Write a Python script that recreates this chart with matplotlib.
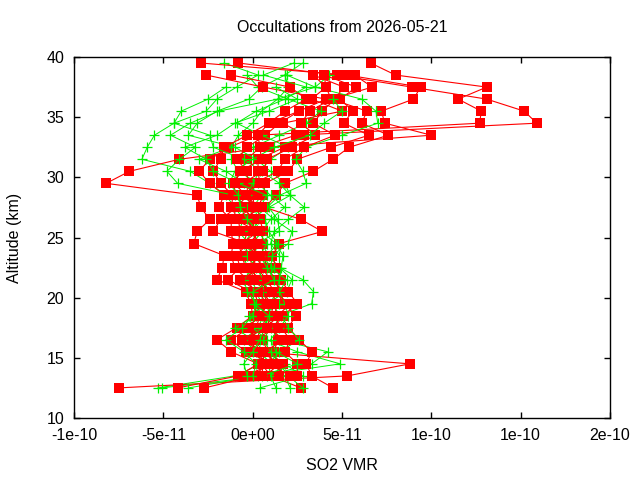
import numpy as np
import matplotlib
matplotlib.use("Agg")
import matplotlib.pyplot as plt

nan = np.nan

# altitude levels (km) shared by every profile
altitude = [12.5, 13.5, 14.5, 15.5, 16.5, 17.5, 18.5, 19.5, 20.5, 21.5,
            22.5, 23.5, 24.5, 25.5, 26.5, 27.5, 28.5, 29.5, 30.5, 31.5,
            32.5, 33.5, 34.5, 35.5, 36.5, 37.5, 38.5, 39.5]

# red profiles, SO2 VMR in units of 1e-11
red_1 = [2.7, 1.0, 0.5, 0.3, 0.2, 0.5, 0.8, 1.0, 0.6, 0.2, 0.0, -0.2, -0.5, -0.3,
         0.0, -0.5, -0.9, -1.1, -0.7, -0.3, 0.4, 2.4, 15.9, 15.2, 13.1, 8.9, 4.7, -0.8]
red_2 = [-7.5, 5.3, 8.8, 0.4, -0.3, 0.2, 0.4, 0.3, 0.1, -0.3, -1.0, -1.2, -1.1, -1.2,
         -1.2, -1.9, -1.6, -2.4, -3.0, -2.4, -1.3, 0.3, 12.7, 12.8, 11.5, 13.1, 8.0, 6.6]
red_3 = [-4.2, -0.8, 0.3, -1.2, -2.0, -0.9, 0.0, -0.1, -0.4, -2.0, -1.7, -1.6, -3.3, -3.1,
         -2.4, -2.9, -3.1, -8.2, -6.9, -4.1, 0.9, 10.0, 7.4, 7.2, 9.0, 9.4, 5.3, -2.9]
red_4 = [-2.7, 0.1, 0.8, 1.2, 1.4, 1.1, 1.7, 2.5, 2.0, 1.6, 1.3, 1.1, 1.5, 3.9,
         2.7, 0.7, 1.3, 1.8, 3.4, 4.5, 5.4, 7.6, 6.1, 6.4, 4.4, 6.7, 5.7, nan]
red_5 = [4.5, 3.3, 3.0, 3.3, 2.6, 2.0, 2.4, 1.8, 1.5, 1.3, 0.8, 0.6, 0.5, 0.6,
         0.4, 0.3, 0.6, 0.7, 2.0, 2.5, 4.4, 6.5, 5.1, 5.6, 4.9, 5.8, 4.0, nan]
red_6 = [nan, 2.5, 2.5, 1.8, 2.1, 1.6, 1.2, 1.4, 1.8, 1.0, 0.5, 0.2, 0.0, 0.2,
         -0.2, 0.1, 0.0, 0.1, 1.4, 1.8, 2.9, 4.6, 3.4, 3.9, 4.6, 5.1, 3.4, nan]
red_7 = [nan, 1.5, 1.7, 0.9, 0.5, -0.5, 0.6, 0.6, 0.9, 0.5, -0.4, -0.6, -0.8, -0.7,
         -0.8, -1.2, -1.1, -1.8, -2.2, -1.8, -1.6, -0.3, 0.9, 1.8, 3.0, 2.1, -1.2, nan]
red_8 = [nan, -0.5, 1.2, -0.4, -1.2, -0.2, 0.3, 0.0, -0.1, -1.4, -0.7, -0.9, -0.3, -2.2,
         -1.8, -0.9, -0.3, -0.3, -0.3, -0.9, -0.3, 0.7, 1.5, 2.6, 4.1, 0.6, -2.6, nan]
red_9 = [nan, 0.7, 1.5, 0.5, -0.6, 0.8, 1.0, 1.2, 1.2, 0.8, 0.2, 0.0, 0.3, 0.0,
         0.1, -0.6, 0.3, -0.6, 0.6, 0.8, 2.2, 3.5, 2.7, 3.2, 4.4, 4.1, 4.0, nan]
red_10 = [nan, 2.1, 0.9, 0.1, 0.0, 1.4, 0.5, 0.8, 0.3, -0.7, 0.5, 0.3, -0.2, 0.4,
          -0.6, 0.5, -0.6, 0.4, 0.3, 0.3, 1.8, 2.9, 1.7, 5.0, 3.3, 4.1, 3.4, nan]
red_11 = [nan, 0.5, 0.6, 0.6, 1.8, 0.8, 1.4, 2.1, 1.1, 0.1, -0.2, 0.4, -0.6, 0.3,
          -1.0, 0.0, -0.4, -1.0, -0.7, 0.5, 0.4, 0.3, 0.9, 2.6, nan, nan, nan, nan]

# green profiles, SO2 VMR in units of 1e-11
green_1 = [-5.3, -1.0, 0.5, 0.2, -0.5, 0.3, 0.6, 0.5, 0.2, 0.0, -0.3, -0.5, -0.2, -0.8,
           -0.5, -1.0, -1.5, -2.4, -3.5, -6.2, -5.9, -5.5, -4.4, -2.6, -2.0, -0.9, 0.3, -1.6]
green_2 = [-5.1, 0.8, 3.3, 4.2, 1.5, 1.2, 1.5, 3.3, 3.4, 2.8, 1.5, 1.5, 1.0, 1.2,
           2.0, 2.9, 2.1, 1.8, 1.0, 0.2, -1.0, -3.6, -3.1, -2.0, -0.2, 0.5, 1.8, 2.8]
green_3 = [-3.6, 0.3, 4.9, 2.5, 0.8, 0.0, -0.2, 0.8, 1.9, 2.2, 1.5, 0.9, 0.5, -0.2,
           0.2, -0.3, -1.0, -4.2, -4.8, -4.1, -3.2, -4.6, -3.5, -1.9, 1.4, 3.5, 4.3, nan]
green_4 = [0.4, 2.8, 1.8, 0.7, 0.0, -1.0, 0.2, 0.4, 0.7, 0.3, 0.6, 0.8, 1.4, 0.9,
           0.7, 0.0, 0.5, -0.5, -1.5, -3.0, -1.2, -0.8, 0.0, 0.5, 1.4, 2.0, 1.8, nan]
green_5 = [1.3, 1.0, 0.9, 1.5, 2.6, 2.0, 1.6, 1.0, 1.3, 1.5, 1.6, 1.7, 1.3, 0.5,
           0.0, 0.8, 1.5, 3.0, 2.8, 2.4, 3.0, 5.0, 7.0, 6.9, 6.1, 3.5, 1.9, nan]
green_6 = [2.1, 1.8, 1.1, 0.3, -0.2, 0.5, 1.0, 0.9, 0.5, 0.9, 1.2, 0.3, 0.0, 0.5,
           1.0, 1.8, 1.0, 0.3, -0.8, -1.2, 0.0, 1.5, 3.0, 3.8, 2.0, 0.3, -0.3, nan]
green_7 = [2.8, 2.0, 1.5, 1.0, 0.6, 1.0, 0.5, 1.5, 0.9, 0.6, 0.2, -0.3, 0.2, 1.5,
           1.4, 0.9, 2.1, 1.5, 0.5, -0.5, -2.2, -2.4, -4.4, -4.0, -2.5, -1.5, nan, nan]
green_8 = [nan, 0.0, 0.2, -0.5, -1.5, -0.6, 0.0, 0.2, -0.3, -0.5, 0.0, 0.1, -0.5, 0.0,
           0.3, 0.1, -0.3, 0.0, 0.4, 1.0, 2.0, 0.5, -0.9, 0.2, 1.8, 3.0, 0.6, 2.3]
green_9 = [nan, 0.5, 2.5, 1.3, 1.0, 1.5, 2.0, 1.8, 1.5, 1.9, 1.0, 1.1, 2.0, 2.2,
           1.2, 0.4, 0.8, -0.8, -2.2, -2.6, -3.8, -2.0, -1.0, 0.9, 2.5, 1.3, nan, nan]
green_10 = [nan, -0.3, -0.5, 0.0, 0.4, 0.7, 0.9, 0.1, 0.0, 1.2, 0.8, 0.4, 0.8, 0.3,
            -0.3, -0.7, -0.8, -1.3, -1.0, 0.0, 1.2, 3.2, 4.0, 5.0, 4.5, nan, nan, nan]

red_profiles = [red_1, red_2, red_3, red_4, red_5, red_6, red_7, red_8, red_9, red_10, red_11]
green_profiles = [green_1, green_2, green_3, green_4, green_5, green_6, green_7, green_8,
                  green_9, green_10]

x_ticks = [-1e-10, -5e-11, 0, 5e-11, 1e-10, 1.5e-10, 2e-10]
x_labels = ["-1e-10", "-5e-11", "0e+00", "5e-11", "1e-10", "1e-10", "2e-10"]
y_ticks = [10, 15, 20, 25, 30, 35, 40]

plt.rcParams['font.family'] = ['Liberation Sans', 'DejaVu Sans']

fig = plt.figure(figsize=(6.4, 4.8), dpi=100)
ax = fig.add_axes([74 / 640, 62 / 480, 536 / 640, 361 / 480])

alt = np.array(altitude)
n = max(len(red_profiles), len(green_profiles))
for i in range(n):
    if i < len(red_profiles):
        ax.plot(np.array(red_profiles[i]) * 1e-11, alt, color='#ff0000', lw=0.8,
                marker='s', markersize=6.6, markeredgewidth=0)
    if i < len(green_profiles):
        ax.plot(np.array(green_profiles[i]) * 1e-11, alt, color='#00f000', lw=0.7,
                marker='+', markersize=7, markeredgewidth=0.9)

ax.set_xlim(-1e-10, 2e-10)
ax.set_ylim(10, 40)
ax.set_xticks(x_ticks)
ax.set_xticklabels(x_labels)
ax.set_yticks(y_ticks)
ax.tick_params(direction='in', length=4, width=1, top=True, right=True,
               labelsize=11.5, pad=7, colors='black')
for s in ax.spines.values():
    s.set_linewidth(1)

fig.text(342 / 640, 1 - 28 / 480, "Occultations from 2026-05-21", ha='center', va='center',
         fontsize=11.5)
fig.text(342 / 640, 1 - 466 / 480, "SO2 VMR", ha='center', va='center', fontsize=11.5)
fig.text(15 / 640, 1 - 238 / 480, "Altitude (km)", ha='center', va='center',
         rotation=90, fontsize=11.5)

fig.savefig("out.png", dpi=100)
